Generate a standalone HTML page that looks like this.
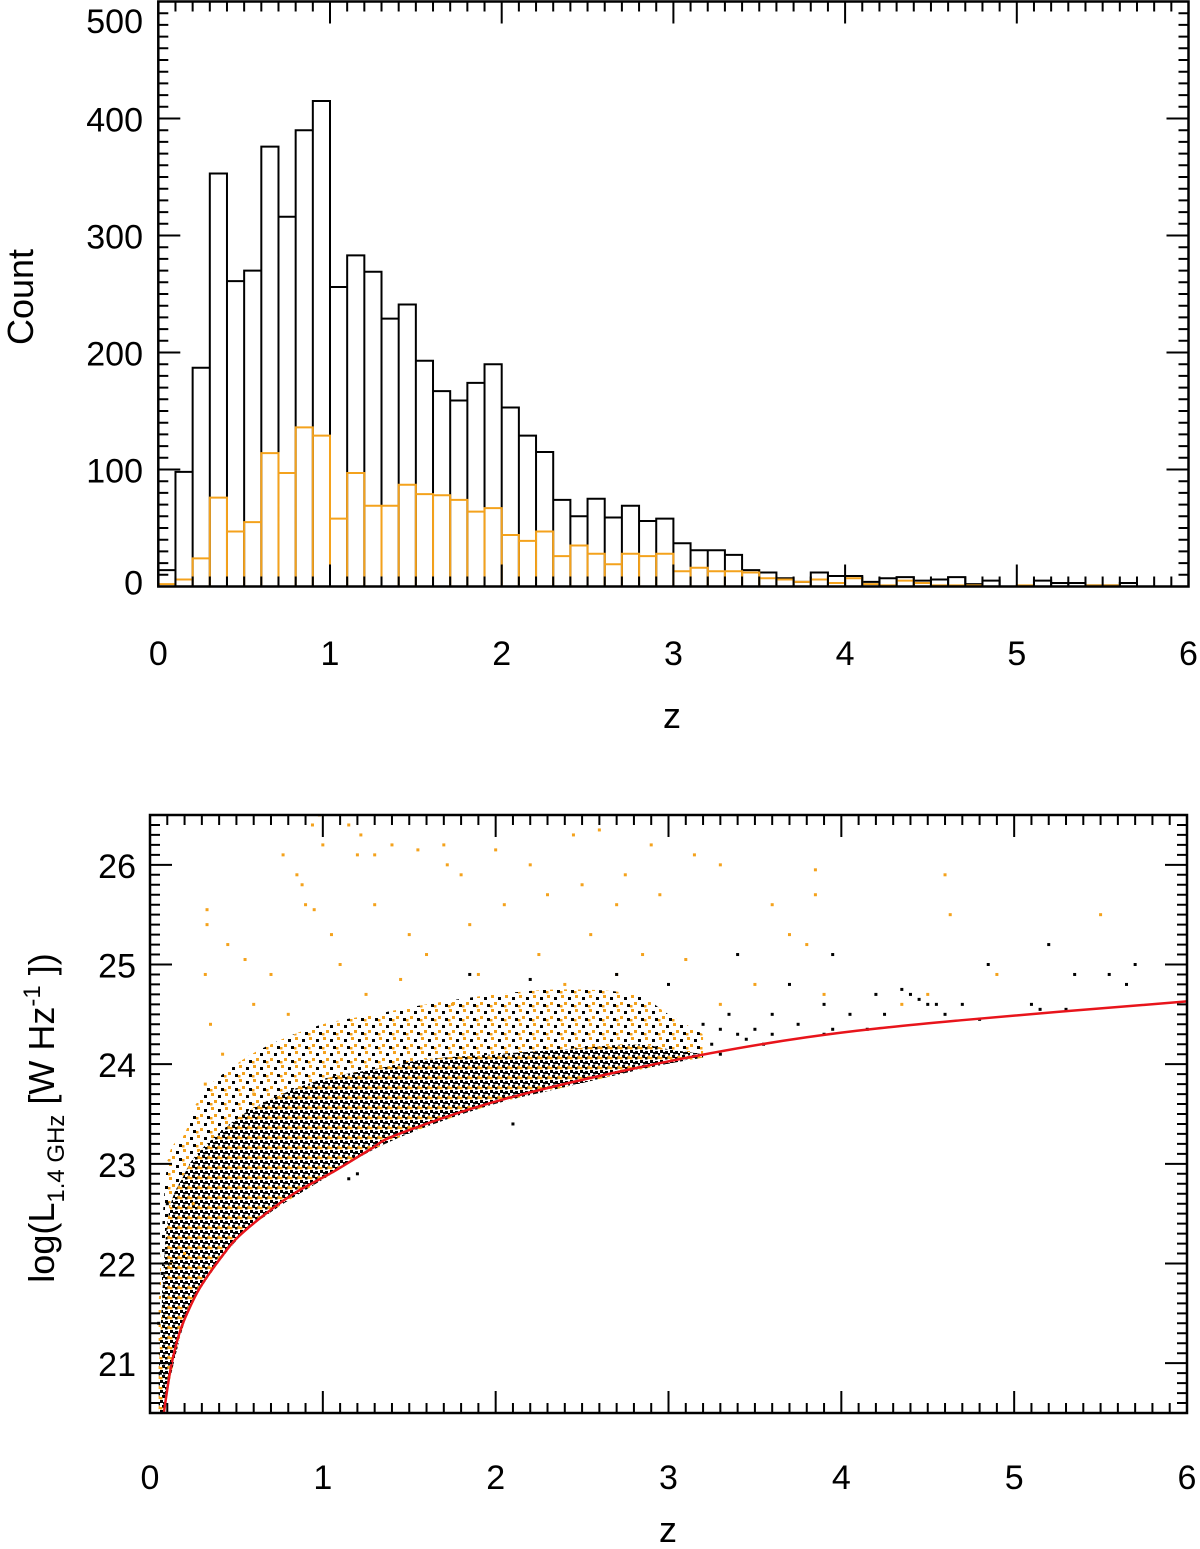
<!DOCTYPE html>
<html><head><meta charset="utf-8"><style>
html,body{margin:0;padding:0;background:#fff;}
svg{display:block;font-family:"Liberation Sans",Arial,sans-serif;}
</style></head><body>
<svg id="fig" width="1200" height="1549" viewBox="0 0 1200 1549" xmlns="http://www.w3.org/2000/svg">
<defs>
<pattern id="dense" width="10" height="10" patternUnits="userSpaceOnUse">
<rect width="10" height="10" fill="#fff"/>
<rect x="0" y="0" width="3" height="3" fill="#000"/>
<rect x="5" y="1" width="3" height="3" fill="#000"/>
<rect x="2" y="5" width="3" height="3" fill="#000"/>
<rect x="7" y="6" width="3" height="3" fill="#f4a21c"/>
<rect x="3" y="2" width="2.5" height="2.5" fill="#111"/>
<rect x="8" y="3" width="2.5" height="2.5" fill="#000"/>
<rect x="0" y="7" width="2.5" height="2.5" fill="#f4a21c"/>
<rect x="5" y="7" width="2.5" height="2.5" fill="#000"/>
</pattern>
<pattern id="halo" width="14" height="14" patternUnits="userSpaceOnUse">
<rect width="14" height="14" fill="#fff"/>
<rect x="1" y="1" width="3" height="3" fill="#f4a21c"/>
<rect x="8" y="3" width="3" height="3" fill="#000"/>
<rect x="4" y="8" width="3" height="3" fill="#f4a21c"/>
<rect x="11" y="10" width="3" height="3" fill="#000"/>
<rect x="0" y="11" width="2.5" height="2.5" fill="#f4a21c"/>
</pattern>
</defs>
<g id="topPanel"></g>
<g id="botPanel"></g>
</svg>
<script>
// ---- Histogram data (bins of width 0.1 from z=0) ----
const binWidth = 0.1;
const allCounts = [14,98,187,353,261,270,376,316,390,415,256,283,269,229,241,193,167,159,174,190,153,129,115,74,60,75,59,69,56,58,37,31,31,27,14,12,7,4,12,9,9,4,7,8,5,6,8,2,5,0,0,5,3,3,1,1,3,0];
const subCounts = [2,6,24,76,47,55,114,97,136,129,58,97,69,69,87,79,78,74,64,67,44,39,47,26,35,28,19,28,26,28,13,16,13,13,12,7,6,4,6,3,7,2,1,5,3,1,1,1,0,0,1,0,0,0,1,1,0,0];
const histYTicks = [0,100,200,300,400,500];
const xTicks = [0,1,2,3,4,5,6];

// ---- Scatter panel data ----
const curveZ = [0.08,0.12,0.17,0.22,0.29,0.385,0.5,0.67,0.85,1.06,1.27,1.44,2.03,2.92,3.8,4.69,6.0];
const curveL = [20.5,20.95,21.3,21.52,21.76,22.0,22.25,22.5,22.72,22.92,23.14,23.3,23.64,24.0,24.27,24.44,24.63];
const bandZ = [0.05,0.1,0.2,0.3,0.5,0.7,1.0,1.3,1.6,2.0,2.4,2.8,3.0,3.2];
const coreTop = [20.9,22.4,22.9,23.15,23.45,23.65,23.85,23.95,24.05,24.1,24.15,24.2,24.15,24.1];
const haloTop = [21.6,23.0,23.3,23.7,24.0,24.2,24.4,24.5,24.6,24.7,24.75,24.7,24.5,24.3];
const orangeZ = [0.33,0.33,0.32,0.35,0.42,0.32,0.45,0.55,0.6,0.77,0.85,0.9,0.94,0.98,0.88,0.95,1.0,1.05,1.15,1.22,1.2,1.3,1.3,1.4,1.5,1.55,1.7,1.72,1.8,1.85,2.0,2.05,2.2,2.3,2.45,2.5,2.6,2.7,2.75,2.9,2.95,3.15,3.3,3.4,3.6,3.7,3.85,3.85,3.8,4.6,4.63,5.5,2.55,1.1,1.6,1.9,2.25,2.85,3.1,3.5,3.9,4.35,4.5,4.9,3.3,0.7,0.6,0.8,1.25,1.45,1.75,2.4,2.7,0.25,0.2,0.12];
const orangeL = [25.55,25.4,24.9,24.4,24.1,23.8,25.2,25.05,23.7,26.1,25.9,25.6,26.4,26.5,25.8,25.55,26.2,25.3,26.4,26.3,26.1,26.1,25.6,26.2,25.3,26.15,26.2,26.0,25.9,25.4,26.15,25.6,26.0,25.7,26.3,25.8,26.35,25.6,25.9,26.2,25.7,26.1,26.0,26.5,25.6,25.3,25.95,25.7,25.2,25.9,25.5,25.5,25.3,25.0,25.1,24.9,25.1,25.1,25.05,24.8,24.7,24.6,24.7,24.9,24.6,24.9,24.6,24.5,24.7,24.85,24.6,24.8,24.9,22.6,22.1,22.0];
const blackZ = [3.95,4.4,4.85,5.2,5.35,5.55,5.7,5.65,5.1,4.2,4.25,4.45,4.55,4.7,3.6,3.7,3.9,4.05,4.15,4.6,4.8,5.15,5.3,3.4,3.5,3.75,3.95,2.1,1.2,1.15,3.4,3.0,2.7,1.85,2.2,3.3,3.55,3.9,4.35,4.5,0.05,0.07,0.1,0.06,3.25,3.35,3.45,3.3,3.6,3.2];
const blackL = [25.1,24.7,25.0,25.2,24.9,24.9,25.0,24.8,24.6,24.7,24.5,24.65,24.6,24.6,24.5,24.8,24.6,24.5,24.35,24.5,24.45,24.55,24.55,24.3,24.35,24.4,24.35,23.4,22.9,22.85,25.1,24.8,24.9,24.9,24.85,24.35,24.2,24.3,24.75,24.6,21.4,21.9,22.6,20.9,24.2,24.5,24.25,24.1,24.3,24.4];
const scatYTicks = [21,22,23,24,25,26];

const NS = "http://www.w3.org/2000/svg";
function mk(parent, tag, attrs){const e=document.createElementNS(NS,tag);for(const k in attrs)e.setAttribute(k,attrs[k]);parent.appendChild(e);return e;}

// ===== Top panel =====
const topG = document.getElementById('topPanel');
const T = {x0:158.3, x1:1188.5, y0:586.5, y1:1.5, zmax:6, cmax:500};
const hx = z => T.x0 + z/T.zmax*(T.x1-T.x0);
const hy = c => T.y0 - c/T.cmax*(T.y0-T.y1);

function stepPath(counts){
  let d = `M${hx(0)},${hy(0)}`;
  counts.forEach((c,i)=>{ d += ` L${hx(i*binWidth)},${hy(c)} L${hx((i+1)*binWidth)},${hy(c)}`; });
  return d;
}
function barLines(counts){
  let d='';
  counts.forEach((c,i)=>{ if(i>0){const h=Math.max(c,counts[i-1]); d+=` M${hx(i*binWidth)},${hy(0)} V${hy(h)}`;} });
  return d;
}
const gAll = mk(topG,'g',{});


let p = mk(gAll,'path',{d:stepPath(allCounts)+barLines(allCounts),fill:'none',stroke:'#000','stroke-width':2});


const gSub = mk(topG,'g',{});


p = mk(gSub,'path',{d:stepPath(subCounts)+barLines(subCounts),fill:'none',stroke:'#f4a21c','stroke-width':2});



function frame(parent, x0,y0,x1,y1, name){
  const r = mk(parent,'rect',{x:x0,y:y1,width:x1-x0,height:y0-y1,fill:'none',stroke:'#000','stroke-width':2.5});
  
  
}
function ticksPath(parent, list, name){
  const t = mk(parent,'path',{d:list,stroke:'#000','stroke-width':2,fill:'none'});
  
  
}
frame(topG,T.x0,T.y0,T.x1,T.y1,'histogram-frame');
let dd='';
for(let i=0;i<=60;i++){const x=hx(i/10);const L=(i%10===0)?22:10;dd+=`M${x},${T.y0}v${-L}M${x},${T.y1}v${L}`;}
for(let c=0;c<=500;c+=10){const y=hy(c);const L=(c%100===0)?22:10;dd+=`M${T.x0},${y}h${L}M${T.x1},${y}h${-L}`;}
ticksPath(topG,dd,'histogram-ticks');
xTicks.forEach(v=>{const t=mk(topG,'text',{x:hx(v),y:665,'font-size':34,'text-anchor':'middle'});t.textContent=v;
 
 });
histYTicks.forEach(v=>{const t=mk(topG,'text',{x:143,y:Math.max(hy(v),20)+(v===0?8:13),'font-size':34,'text-anchor':'end'});t.textContent=v;
 
 });
let tx=mk(topG,'text',{x:672,y:728,'font-size':36,'text-anchor':'middle'});tx.textContent='z';


tx=mk(topG,'text',{x:0,y:0,'font-size':36,'text-anchor':'middle',transform:'translate(33,297) rotate(-90)'});tx.textContent='Count';



// ===== Bottom panel =====
const botG = document.getElementById('botPanel');
const B = {x0:150, x1:1187, y0:1413, y1:815, lmin:20.5, lmax:26.5};
const sx = z => B.x0 + z/6*(B.x1-B.x0);
const sy = l => B.y0 - (l-B.lmin)/(B.lmax-B.lmin)*(B.y0-B.y1);
const clip = mk(botG,'clipPath',{id:'bclip'});
mk(clip,'rect',{x:B.x0,y:B.y1,width:B.x1-B.x0,height:B.y0-B.y1});
const gs = mk(botG,'g',{'clip-path':'url(#bclip)'});

function curveAt(z){
  if(z<=curveZ[0]) return 20.2;
  for(let i=1;i<curveZ.length;i++){ if(z<=curveZ[i]){const f=(z-curveZ[i-1])/(curveZ[i]-curveZ[i-1]);return curveL[i-1]+f*(curveL[i]-curveL[i-1]);} }
  return curveL[curveL.length-1];
}
function smoothPath(xs, ys){
  const P = xs.map((x,i)=>[x,ys[i]]);
  let d = `M${P[0][0]},${P[0][1]}`;
  for(let i=0;i<P.length-1;i++){
    const p0=P[Math.max(i-1,0)],p1=P[i],p2=P[i+1],p3=P[Math.min(i+2,P.length-1)];
    const c1=[p1[0]+(p2[0]-p0[0])/6,p1[1]+(p2[1]-p0[1])/6];
    const c2=[p2[0]-(p3[0]-p1[0])/6,p2[1]-(p3[1]-p1[1])/6];
    d+=` C${c1[0]},${c1[1]} ${c2[0]},${c2[1]} ${p2[0]},${p2[1]}`;
  }
  return d;
}
function bandPath(topArr){
  const xs = bandZ.map(sx), ys = topArr.map(sy);
  let d = smoothPath(xs, ys);
  const rx = bandZ.slice().reverse().map(sx), ry = bandZ.slice().reverse().map(z=>sy(curveAt(z)-0.02));
  d += ' L' + smoothPath(rx, ry).slice(1) + ' Z';
  return d;
}
p = mk(gs,'path',{d:bandPath(haloTop),fill:'url(#halo)'});


p = mk(gs,'path',{d:bandPath(coreTop),fill:'url(#dense)'});



orangeZ.forEach((z,i)=>{const r=mk(gs,'rect',{x:sx(z)-1.5,y:sy(orangeL[i])-1.5,width:3,height:3,fill:'#f4a21c'});
 
 });
blackZ.forEach((z,i)=>{const r=mk(gs,'rect',{x:sx(z)-1.5,y:sy(blackL[i])-1.5,width:3,height:3,fill:'#000'});
 
 });

const rc = mk(gs,'path',{d:smoothPath(curveZ.map(sx), curveL.map(sy)),fill:'none',stroke:'#e8141b','stroke-width':2.5,'stroke-linejoin':'round'});



frame(botG,B.x0,B.y0,B.x1,B.y1,'scatter-frame');
dd='';
for(let i=0;i<=60;i++){const x=sx(i/10);const L=(i%10===0)?22:10;dd+=`M${x},${B.y0}v${-L}M${x},${B.y1}v${L}`;}
for(let k=205;k<=265;k++){const v=k/10;const y=sy(v);const L=(k%10===0)?22:10;dd+=`M${B.x0},${y}h${L}M${B.x1},${y}h${-L}`;}
ticksPath(botG,dd,'scatter-ticks');
xTicks.forEach(v=>{const t=mk(botG,'text',{x:sx(v),y:1489,'font-size':34,'text-anchor':'middle'});t.textContent=v;
 
 });
scatYTicks.forEach(v=>{const t=mk(botG,'text',{x:136,y:sy(v)+13,'font-size':34,'text-anchor':'end'});t.textContent=v;
 
 });
tx=mk(botG,'text',{x:668,y:1542,'font-size':36,'text-anchor':'middle'});tx.textContent='z';


const yl = mk(botG,'text',{x:0,y:0,'font-size':36,'text-anchor':'middle',transform:'translate(54,1118) rotate(-90)'});


yl.innerHTML = 'log(L<tspan font-size="24" dy="10">1.4 GHz</tspan><tspan dy="-10"> [W Hz</tspan><tspan font-size="24" dy="-14">-1</tspan><tspan dy="14"> ])</tspan>';
</script>
</body></html>
